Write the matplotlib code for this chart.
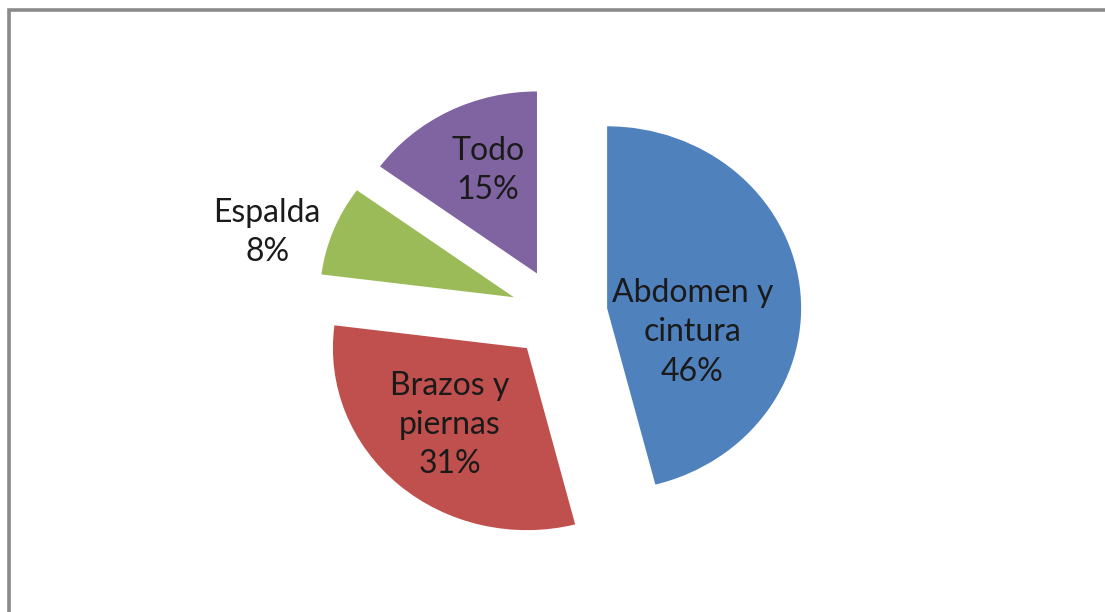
import numpy as np
import matplotlib
matplotlib.use("Agg")
import matplotlib.pyplot as plt
from matplotlib.patches import Rectangle

# Data
labels = ["Abdomen y\ncintura", "Brazos y\npiernas", "Espalda", "Todo"]
values = [46, 31, 8, 15]
colors = ["#4F81BD", "#C0504D", "#9BBB59", "#8064A2"]

# label placement (radius fraction, angle tweak in degrees) relative to each exploded wedge
label_r = [0.46, 0.58, 1.32, 0.62]
label_dang = [-24, -2, 6, -3]

W, H = 1105, 612
cx, cy = 559, 314        # pie centre in pixels (from top-left)
rx, ry = 194, 182        # slightly stretched horizontally, like the original

plt.rcParams['font.family'] = ['Lato', 'DejaVu Sans']

fig = plt.figure(figsize=(W / 100, H / 100), dpi=100)
ax = fig.add_axes([0, 0, 1, 1])

wedges, _ = ax.pie(values, colors=colors, startangle=90, counterclock=False,
                   explode=[0.25] * len(values), radius=1,
                   wedgeprops=dict(linewidth=0))
ax.set_aspect('auto')
ax.set_xlim(-cx / rx, (W - cx) / rx)
ax.set_ylim(-(H - cy) / ry, cy / ry)
ax.axis('off')

total = sum(values)
for w, lab, v, rr, da in zip(wedges, labels, values, label_r, label_dang):
    mid = np.deg2rad((w.theta1 + w.theta2) / 2 + da)
    x0, y0 = w.center
    ax.text(x0 + rr * np.cos(mid), y0 + rr * np.sin(mid),
            f"{lab}\n{round(100 * v / total)}%", ha='center', va='center',
            fontsize=23, color='#1a1a1a', linespacing=1.38)

# chart-area border (only top and left visible in the crop)
fig.patches.append(Rectangle((9 / W, -0.1), 1.2, 1.1 - 10 / H,
                             transform=fig.transFigure, fill=False,
                             edgecolor='#8a8a8a', linewidth=2.6, clip_on=False))

fig.savefig("out.png", dpi=100, facecolor='white')
